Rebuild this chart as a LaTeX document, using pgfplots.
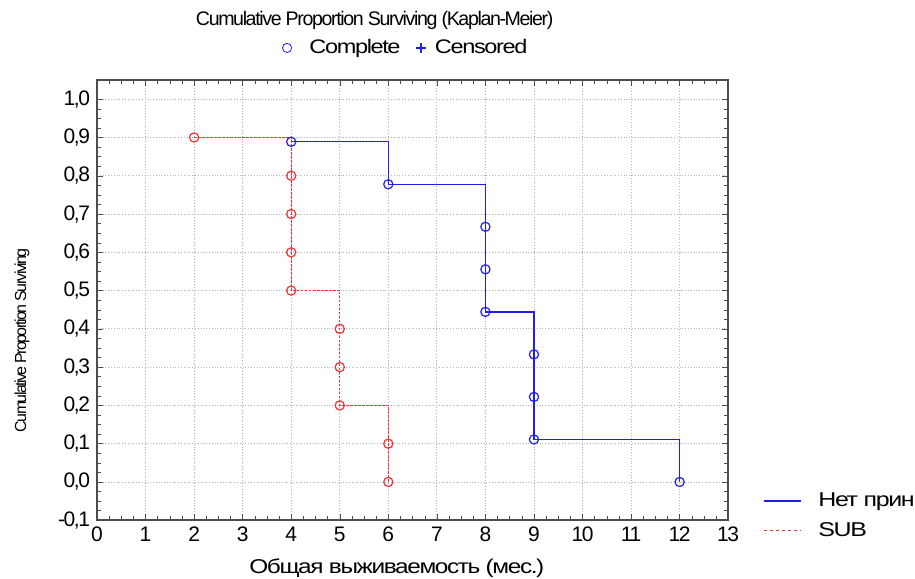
\documentclass[border=0pt]{standalone}
\usepackage{pgfplots}
\pgfplotsset{compat=1.18}
\usepackage{fontspec}
\setmainfont{Liberation Sans}[LetterSpace=-7]
\definecolor{kmblue}{RGB}{30,30,240}
\definecolor{kmred}{RGB}{240,50,50}
\pgfplotsset{
    circ legend/.style={legend image code/.code={\path (0pt,0pt) (13pt,0pt); \draw[##1] plot coordinates {(4pt,0pt)};}},
    cross legend/.style={legend image code/.code={\path (0pt,0pt) (9.5pt,0pt); \draw[##1] plot coordinates {(5pt,0pt)};}},
    dashed legend/.style={legend image code/.code={\draw[##1, dash pattern=on 1.6pt off 1.4pt] (0pt,0pt) -- (18.5pt,0pt); \path (25pt,0pt);}},
}
\begin{document}
\begin{tikzpicture}
\begin{axis}[
    width=315.5pt, height=220pt, scale only axis,
    xmin=0, xmax=13, ymin=-0.1, ymax=1.05,
    xtick={0,1,...,13},
    ytick={-0.1,0,0.1,0.2,0.3,0.4,0.5,0.6,0.7,0.8,0.9,1.0},
    minor x tick num=3, minor y tick num=3,
    tick align=inside,
    major tick length=3pt, minor tick length=2pt,
    tick style={black!70},
    grid=major,
    major grid style={densely dotted, black!30},
    axis line style={black!70, line width=0.8pt},
    ticklabel style={font=\fontsize{10.5}{12}\selectfont},
    /pgf/number format/.cd, use comma, fixed, fixed zerofill, precision=1,
    assume math mode=true, /pgfplots/.cd,
    xticklabel style={/pgf/number format/fixed zerofill=false},
    xlabel={Общая выживаемость (мес.)},
    xlabel style={at={(axis description cs:0.475,-0.109)}, anchor=center,
        font=\fontsize{10}{12}\selectfont\addfontfeatures{FakeStretch=1.22}},
    ylabel={Cumulative Proportion Surviving},
    ylabel style={at={(axis description cs:-0.119,0.409)}, anchor=center,
        font=\fontsize{8}{9}\selectfont\addfontfeatures{LetterSpace=-10}},
    title={Cumulative Proportion Surviving (Kaplan-Meier)},
    title style={at={(axis description cs:0.44,1.136)}, anchor=center,
        yshift=-6pt, font=\fontsize{9.8}{11}\selectfont},
    legend style={at={(axis description cs:1.045,0.082)}, anchor=north west,
        draw=none, fill=none,
        font=\fontsize{10}{12}\selectfont\addfontfeatures{FakeStretch=1.25},
        row sep=2.5pt},
    legend cell align=left,
    legend image code/.code={\draw[#1] (0pt,0pt) -- (18.5pt,0pt); \path (25pt,0pt);},
]
% step lines
\addplot[const plot mark left, kmblue, line width=0.7pt] coordinates {
    (4,0.8889) (6,0.7778) (8,0.4444) (9,0.1111) (12,0)};
\addlegendentry{Нет прин}
\addplot[const plot mark left, kmred, dash pattern=on 1.2pt off 0.8pt, line width=0.6pt, dashed legend] coordinates {
    (2,0.9) (4,0.5) (5,0.2) (6,0)};
\addlegendentry{SUB}
% event markers
\addplot[only marks, mark=o, mark size=2.3pt, kmblue, mark options={fill=white, line width=0.6pt}, forget plot] coordinates {
    (4,0.8889) (6,0.7778) (8,0.6667) (8,0.5556) (8,0.4444)
    (9,0.3333) (9,0.2222) (9,0.1111) (12,0)};
\addplot[only marks, mark=o, mark size=2.3pt, kmred, mark options={fill=white, line width=0.6pt}, forget plot] coordinates {
    (2,0.9) (4,0.8) (4,0.7) (4,0.6) (4,0.5)
    (5,0.4) (5,0.3) (5,0.2) (6,0.1) (6,0)};
\coordinate (bbl) at (axis description cs:-0.1537,-0.132);
\coordinate (btr) at (axis description cs:1.296,1.182);
\end{axis}
% second axis only for the top legend
\begin{axis}[
    width=315.5pt, height=220pt, scale only axis, hide axis,
    xmin=0, xmax=1, ymin=0, ymax=1,
    legend columns=2,
    legend style={at={(axis description cs:0.488,1.073)}, anchor=center,
        draw=none, fill=none,
        font=\fontsize{9.8}{11}\selectfont\addfontfeatures{FakeStretch=1.2},
        /tikz/every even column/.append style={column sep=2.5pt}},
]
\addlegendimage{only marks, mark=o, mark size=2.3pt, kmblue, circ legend}
\addlegendentry{Complete}
\addlegendimage{only marks, mark=+, mark size=2.5pt, kmblue, line width=1.2pt, cross legend}
\addlegendentry{Censored}
\end{axis}
\pgfresetboundingbox
\path (bbl) rectangle (btr);
\end{tikzpicture}
\end{document}
